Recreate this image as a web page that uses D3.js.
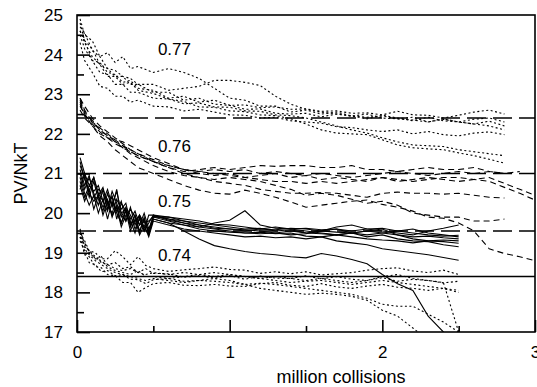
<!DOCTYPE html>
<html>
<head>
<meta charset="utf-8">
<script src="https://cdn.jsdelivr.net/npm/d3@7"></script>
<style>
  body { margin: 0; background: #fff; }
  text { font-family: "Liberation Sans", Arial, sans-serif; fill: #000; }
</style>
</head>
<body>
<div id="chart"></div>
<script>
// x samples (million collisions) for each group
var x77 = [0.02,0.05,0.1,0.15,0.2,0.25,0.3,0.35,0.4,0.5,0.6,0.7,0.8,0.9,1.0,1.1,1.2,1.3,1.4,1.5,1.6,1.7,1.8,1.9,2.0,2.1,2.2,2.3,2.4,2.5,2.6,2.7,2.8];
var x76 = [0.02,0.05,0.1,0.15,0.2,0.25,0.3,0.35,0.4,0.5,0.6,0.7,0.8,0.9,1.0,1.1,1.2,1.3,1.4,1.5,1.6,1.7,1.8,1.9,2.0,2.1,2.2,2.3,2.4,2.5,2.6,2.7,2.8,2.9,3.0];
var x75 = [0.02,0.05,0.08,0.11,0.14,0.17,0.2,0.23,0.26,0.29,0.32,0.35,0.38,0.41,0.44,0.47,0.5,0.6,0.7,0.8,0.9,1.0,1.1,1.2,1.3,1.4,1.5,1.6,1.7,1.8,1.9,2.0,2.1,2.2,2.3,2.4,2.5];
var x74 = [0.02,0.05,0.08,0.12,0.16,0.2,0.25,0.3,0.35,0.4,0.45,0.5,0.6,0.7,0.8,0.9,1.0,1.1,1.2,1.3,1.4,1.5,1.6,1.7,1.8,1.9,2.0,2.1,2.2,2.3,2.4,2.5];

// PV/NkT runs, density 0.77 (dotted)
var runs77 = [
  [24.9,24.5,24.35,23.95,24.05,23.8,23.95,23.65,23.7,23.55,23.65,23.55,23.4,23.15,22.9,22.85,22.7,22.7,22.55,22.6,22.5,22.55,22.45,22.5,22.4,22.38,22.42,22.3,22.38,22.3,22.25,22.32,22.2],
  [24.7,24.55,24.1,23.95,23.65,23.6,23.45,23.4,23.25,23.25,23.1,23.15,23.2,23.35,23.35,23.3,23.22,22.95,22.75,22.62,22.55,22.5,22.45,22.42,22.45,22.38,22.35,22.3,22.37,22.3,22.25,22.2,22.1],
  [24.3,23.85,23.55,23.2,23.15,22.95,22.95,22.8,22.85,22.7,22.68,22.58,22.62,22.55,22.48,22.47,22.4,22.42,22.33,22.3,22.27,22.18,22.16,22.1,22.06,22.1,22.0,22.06,21.98,21.95,22.02,22.05,21.98],
  [24.6,24.3,23.95,23.75,23.45,23.45,23.25,23.3,23.1,23.02,22.88,22.82,22.68,22.67,22.58,22.56,22.48,22.46,22.38,22.25,22.1,22.02,22.0,21.98,21.85,21.72,21.65,21.62,21.6,21.52,21.45,21.36,21.26],
  [24.5,24.15,23.85,23.55,23.5,23.25,23.25,23.05,23.05,22.9,22.88,22.76,22.78,22.68,22.67,22.58,22.57,22.48,22.46,22.4,22.3,22.2,22.1,22.02,21.9,21.8,21.72,21.7,21.68,21.6,21.55,21.5,21.45],
  [24.8,24.35,24.15,23.75,23.65,23.45,23.45,23.25,23.25,23.05,23.05,22.85,22.9,22.75,22.72,22.62,22.63,22.52,22.5,22.52,22.43,22.5,22.45,22.38,22.47,22.4,22.33,22.42,22.33,22.3,22.37,22.4,22.3],
  [24.6,24.35,23.85,23.8,23.55,23.5,23.3,23.35,23.15,23.1,22.9,22.95,22.8,22.85,22.72,22.73,22.66,22.68,22.62,22.63,22.57,22.58,22.52,22.53,22.48,22.57,22.48,22.47,22.4,22.47,22.55,22.6,22.5]
];

// density 0.76 (dashed)
var runs76 = [
  [22.9,22.6,22.3,22.1,21.95,21.85,21.8,21.7,21.6,21.4,21.25,21.1,21.05,21.0,20.95,20.9,20.85,20.8,20.8,20.75,20.8,20.75,20.8,20.85,20.9,20.85,20.8,20.85,20.9,20.9,20.85,20.8,20.65,20.5,20.33],
  [22.8,22.5,22.2,21.95,21.8,21.6,21.45,21.3,21.15,21.0,20.85,20.7,20.58,20.5,20.48,20.58,20.5,20.4,20.28,20.15,20.2,20.25,20.3,20.33,20.22,20.15,20.05,19.9,19.87,19.75,19.55,19.1,18.98,18.9,18.8],
  [22.7,22.5,22.25,22.05,21.9,21.8,21.7,21.55,21.45,21.3,21.15,21.0,20.9,20.8,20.75,20.7,20.6,20.55,20.5,20.5,20.52,20.5,20.45,20.4,20.5,20.53,20.5,20.5,20.48,20.5,20.45,20.4,20.38],
  [22.85,22.55,22.35,22.1,21.95,21.8,21.65,21.5,21.4,21.2,21.05,20.95,20.9,20.85,20.9,20.85,20.8,20.7,20.6,20.45,20.5,20.45,20.35,20.25,20.3,20.2,20.0,19.95,19.9,19.9,19.8,19.8,19.85],
  [22.75,22.45,22.3,22.15,22.0,21.85,21.7,21.6,21.5,21.35,21.2,21.1,21.05,21.1,21.05,21.1,21.0,21.05,21.0,20.95,21.0,20.95,20.9,20.95,21.0,21.05,21.0,20.95,21.0,21.05,21.0,21.05,21.0],
  [22.6,22.4,22.2,22.0,21.9,21.75,21.65,21.55,21.45,21.3,21.15,21.05,21.1,21.15,21.1,21.15,21.2,21.18,21.2,21.2,21.15,21.15,21.2,21.1,21.1,21.05,21.1,21.15,21.1,21.1,21.15,21.05,21.0,21.05],
  [22.9,22.7,22.4,22.2,22.05,21.9,21.75,21.6,21.5,21.3,21.2,21.1,21.0,20.95,21.0,20.9,20.95,21.0,20.9,20.95,20.85,20.9,20.85,20.8,20.9,20.8,20.85,20.9,20.85,20.8,20.85,20.9,20.75,20.6,20.45]
];

// density 0.75 (solid)
var runs75 = [
  [21.4,21.0,20.7,20.9,20.5,20.3,20.6,20.2,20.55,20.0,20.1,19.85,20.05,19.7,19.8,19.55,19.95,19.85,19.8,19.75,19.7,19.65,19.6,19.62,19.55,19.58,19.5,19.55,19.52,19.5,19.55,19.5,19.45,19.4,19.42,19.38,19.35],
  [21.0,20.6,20.9,20.5,20.2,20.6,20.25,20.4,20.05,20.3,19.8,20.1,19.9,19.7,20.0,19.6,19.9,19.9,19.85,19.8,19.72,19.7,19.65,19.6,19.65,19.6,19.62,19.58,19.6,19.55,19.6,19.62,19.55,19.5,19.45,19.42,19.44],
  [20.8,20.4,20.7,20.55,20.7,20.3,20.05,20.45,19.85,20.25,20.05,19.7,19.95,19.5,19.9,19.45,19.9,19.8,19.7,19.65,19.75,19.82,20.06,19.7,19.62,19.6,19.55,19.5,19.45,19.5,19.55,19.6,19.45,19.35,19.3,19.28,19.24],
  [20.6,21.0,20.5,20.3,20.45,20.15,20.35,19.9,20.2,19.75,20.1,19.65,19.95,19.55,19.85,19.5,19.85,19.75,19.55,19.35,19.18,19.1,19.03,18.98,18.95,18.9,18.87,18.98,18.92,18.83,18.72,18.45,18.22,18.05,17.4,17.0,16.6],
  [21.2,20.9,20.4,20.8,20.35,20.05,20.5,20.15,20.6,19.95,19.8,20.15,19.7,19.95,19.55,19.75,19.95,19.82,19.75,19.7,19.65,19.6,19.55,19.6,19.58,19.62,19.6,19.55,19.65,19.7,19.6,19.55,19.5,19.45,19.55,19.62,19.7],
  [20.9,20.5,20.2,20.45,20.0,20.35,19.85,20.3,20.0,19.75,20.05,19.55,19.85,19.45,19.7,19.4,19.8,19.7,19.6,19.55,19.5,19.45,19.4,19.42,19.38,19.4,19.35,19.4,19.3,19.25,19.2,19.1,19.05,19.0,18.95,18.88,18.81],
  [21.1,20.7,20.95,20.4,20.6,20.5,20.1,20.55,20.25,19.9,20.15,19.95,19.6,19.85,19.55,19.95,19.95,19.9,19.8,19.7,19.62,19.6,19.58,19.55,19.5,19.55,19.5,19.48,19.45,19.5,19.4,19.45,19.35,19.3,19.28,19.2,19.15],
  [20.7,20.3,20.6,20.1,20.45,19.95,20.3,19.95,20.15,19.65,19.95,19.8,19.5,19.9,19.65,19.45,19.85,19.75,19.7,19.6,19.55,19.52,19.5,19.48,19.5,19.45,19.48,19.55,19.6,19.5,19.45,19.5,19.55,19.6,19.5,19.45,19.4],
  [21.3,20.85,20.55,20.9,20.45,20.65,20.2,20.0,20.35,20.1,20.25,19.75,19.8,19.95,19.75,19.8,19.92,19.85,19.75,19.65,19.6,19.55,19.5,19.52,19.48,19.5,19.42,19.4,19.45,19.4,19.35,19.32,19.3,19.25,19.3,19.32,19.3]
];

// density 0.74 (dotted)
var runs74 = [
  [19.6,19.15,19.05,18.85,18.9,18.7,18.75,18.6,18.65,18.5,18.6,18.48,18.47,18.38,18.42,18.36,18.42,18.33,18.41,18.36,18.35,18.42,18.34,18.4,18.33,18.3,18.37,18.28,18.33,18.3,18.24,18.28],
  [19.5,19.3,19.05,19.0,18.85,18.85,19.05,18.9,18.7,18.9,18.68,18.6,18.53,18.57,18.6,18.64,18.58,18.56,18.48,18.52,18.47,18.52,18.44,18.47,18.5,18.56,18.6,18.62,18.54,18.5,18.56,18.45],
  [19.4,18.95,18.9,18.65,18.62,18.45,18.42,18.25,18.25,18.0,18.12,18.22,18.25,18.18,18.17,18.2,18.16,18.15,18.22,18.25,18.18,18.15,18.22,18.14,18.1,18.16,18.2,18.13,18.1,18.05,18.1,18.0],
  [19.5,19.1,18.95,18.8,18.7,18.6,18.5,18.45,18.4,18.35,18.3,18.35,18.3,18.25,18.3,18.35,18.3,18.2,18.1,18.05,18.0,17.95,17.98,17.95,17.9,17.8,17.55,17.4,17.1,16.8],
  [19.3,19.05,18.75,18.7,18.52,18.55,18.42,18.45,18.33,18.32,18.22,18.32,18.35,18.28,18.3,18.28,18.25,18.2,18.23,18.2,18.15,18.1,18.05,18.0,17.95,17.85,17.7,17.65,17.65,17.45,17.25,17.0],
  [19.4,19.2,19.05,18.9,18.75,18.7,18.6,18.55,18.6,18.5,18.45,18.5,18.45,18.5,18.45,18.4,18.45,18.4,18.35,18.4,18.35,18.3,18.35,18.3,18.25,18.3,18.4,18.45,18.35,18.3,18.25,17.0],
  [19.55,19.25,19.0,18.85,18.8,18.65,18.55,18.5,18.45,18.55,18.4,18.4,18.35,18.4,18.45,18.5,18.45,18.4,18.35,18.3,18.25,18.28,18.3,18.25,18.2,18.25,18.3,18.25,18.2,18.15,18.1,18.05]
];

var groupLabels = ["0.77", "0.76", "0.75", "0.74"];
var labelY = [23.99, 21.54, 20.15, 18.79];
var labelX = 0.53;

// long-time limits drawn as horizontal lines
var limitY = [22.4, 21.0, 19.55, 18.4];

var xTicks = [0, 1, 2, 3];
var xMinor = [0.5, 1.5, 2.5];
var yTicks = [17, 18, 19, 20, 21, 22, 23, 24, 25];
var yMinor = [17.5, 18.5, 19.5, 20.5, 21.5, 22.5, 23.5, 24.5];

var w = 537, h = 387;
var pL = 77, pR = 535, pT = 15, pB = 332;

var x = d3.scaleLinear().domain([0, 3]).range([pL, pR]);
var y = d3.scaleLinear().domain([17, 25]).range([pB, pT]);

var svg = d3.select("#chart").append("svg")
  .attr("width", w)
  .attr("height", h);

svg.append("defs").append("clipPath").attr("id", "plot")
  .append("rect")
  .attr("x", pL).attr("y", pT)
  .attr("width", pR - pL).attr("height", pB - pT);

var plot = svg.append("g").attr("clip-path", "url(#plot)");

var line = d3.line()
  .x(function (d) { return x(d[0]); })
  .y(function (d) { return y(d[1]); });

var groups = [
  { xs: x77, runs: runs77, dash: "2,2.5" },
  { xs: x76, runs: runs76, dash: "6,4" },
  { xs: x75, runs: runs75, dash: null },
  { xs: x74, runs: runs74, dash: "2,2.5" }
];

groups.forEach(function (g) {
  plot.append("g").selectAll("path")
    .data(g.runs)
    .enter()
    .append("path")
    .attr("d", function (r) { return line(r.map(function (v, i) { return [g.xs[i], v]; })); })
    .attr("fill", "none")
    .attr("stroke", "#000")
    .attr("stroke-width", 1.1)
    .attr("stroke-dasharray", g.dash);
});

//limit lines
plot.append("g").selectAll("line")
  .data(limitY)
  .enter()
  .append("line")
  .attr("x1", x(0)).attr("x2", x(3))
  .attr("y1", function (d) { return y(d); })
  .attr("y2", function (d) { return y(d); })
  .attr("stroke", "#000")
  .attr("stroke-width", 1.6)
  .attr("stroke-dasharray", function (d, i) { return i < 3 ? "19,7" : null; });

//axes with inward ticks
svg.append("g")
  .attr("transform", "translate(" + pL + ",0)")
  .call(d3.axisLeft(y).tickValues(yTicks).tickSize(-13).tickPadding(14).tickFormat(d3.format("d")));
svg.append("g")
  .attr("transform", "translate(" + pL + ",0)")
  .call(d3.axisLeft(y).tickValues(yMinor).tickSize(-7).tickFormat(""));

svg.append("g")
  .attr("transform", "translate(0," + pB + ")")
  .call(d3.axisBottom(x).tickValues(xTicks).tickSize(-12).tickPadding(14).tickFormat(d3.format("d")));
svg.append("g")
  .attr("transform", "translate(0," + pB + ")")
  .call(d3.axisBottom(x).tickValues(xMinor).tickSize(-6).tickFormat(""));

svg.selectAll(".domain").remove();
svg.selectAll(".tick line").attr("stroke", "#000").attr("stroke-width", 1.6);
svg.selectAll(".tick text").attr("font-size", 17).attr("fill", "#000")
  .attr("font-family", "Liberation Sans, Arial, sans-serif");

svg.append("rect")
  .attr("x", pL).attr("y", pT)
  .attr("width", pR - pL).attr("height", pB - pT)
  .attr("fill", "none")
  .attr("stroke", "#000")
  .attr("stroke-width", 1.6);

//group labels
svg.append("g").selectAll("text")
  .data(groupLabels)
  .enter()
  .append("text")
  .attr("x", x(labelX))
  .attr("y", function (d, i) { return y(labelY[i]); })
  .attr("font-size", 17)
  .text(function (d) { return d; });

svg.append("text")
  .attr("x", 341)
  .attr("y", 383)
  .attr("text-anchor", "middle")
  .attr("font-size", 18)
  .text("million collisions");

svg.append("text")
  .attr("transform", "translate(27," + ((pT + pB) / 2) + ") rotate(-90)")
  .attr("text-anchor", "middle")
  .attr("font-size", 18)
  .text("PV/NkT");
</script>
</body>
</html>
